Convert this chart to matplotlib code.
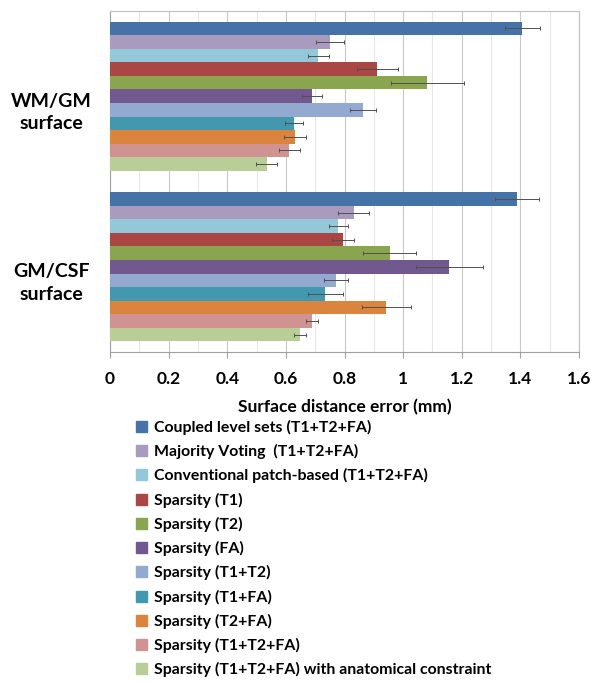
import matplotlib
matplotlib.use("Agg")
import matplotlib.pyplot as plt
import matplotlib.transforms as mtransforms
from matplotlib.patches import Patch
import numpy as np

plt.rcParams['font.family'] = ['Lato', 'DejaVu Sans']
plt.rcParams['font.weight'] = 'bold'

groups = ['WM/GM\nsurface', 'GM/CSF\nsurface']
methods = ['Coupled level sets (T1+T2+FA)',
           'Majority Voting  (T1+T2+FA)',
           'Conventional patch-based (T1+T2+FA)',
           'Sparsity (T1)',
           'Sparsity (T2)',
           'Sparsity (FA)',
           'Sparsity (T1+T2)',
           'Sparsity (T1+FA)',
           'Sparsity (T2+FA)',
           'Sparsity (T1+T2+FA)',
           'Sparsity (T1+T2+FA) with anatomical constraint']
colors = ['#4572A7', '#A99BBD', '#93C8D9', '#AA4643', '#89A54E', '#71588F',
          '#93A9CF', '#4198AF', '#DB843D', '#D19392', '#B9CD96']

wm_gm = [1.406, 0.751, 0.711, 0.912, 1.082, 0.689, 0.863, 0.628, 0.631, 0.612, 0.534]
wm_gm_err = [0.060, 0.047, 0.037, 0.069, 0.124, 0.034, 0.044, 0.032, 0.038, 0.037, 0.036]
gm_csf = [1.389, 0.831, 0.779, 0.795, 0.954, 1.158, 0.771, 0.735, 0.943, 0.689, 0.648]
gm_csf_err = [0.075, 0.054, 0.033, 0.037, 0.091, 0.115, 0.042, 0.059, 0.084, 0.022, 0.021]

fig = plt.figure(figsize=(6.02, 6.83), dpi=100)
ax = fig.add_axes([110/602, 1-352/683, 469/602, 341/683])

n = len(methods)
h = 0.0795
for i in range(n):
    ys = np.arange(len(groups)) - (n-1)/2*h + i*h
    vals = [wm_gm[i], gm_csf[i]]
    errs = [wm_gm_err[i], gm_csf_err[i]]
    ax.barh(ys, vals, height=h, color=colors[i], zorder=3)
    ax.errorbar(vals, ys, xerr=errs, fmt='none', ecolor='#505050',
                elinewidth=0.7, capsize=1.5, capthick=0.7, zorder=4)

ax.set_xlim(0, 1.6)
ax.set_ylim(1.5, -0.5)
ax.set_xticks(np.arange(0, 1.61, 0.2))
ax.set_xticklabels(['0', '0.2', '0.4', '0.6', '0.8', '1', '1.2', '1.4', '1.6'])
ax.set_xticks(np.arange(0.1, 1.6, 0.2), minor=True)
ax.grid(axis='x', which='major', color='#c8c8c8', lw=0.8, zorder=0)
ax.grid(axis='x', which='minor', color='#e6e6e6', lw=0.8, zorder=0)
ax.tick_params(axis='x', which='major', length=4, color='#a0a0a0', labelsize=12.5, pad=10)
ax.tick_params(axis='x', which='minor', length=0)
ax.set_yticks(range(len(groups)))
ax.set_yticklabels(groups, fontsize=14, linespacing=1.4, ha='center')
ax.tick_params(axis='y', length=0, pad=42)
off = mtransforms.ScaledTranslation(0, -12/100, fig.dpi_scale_trans)
for lab in ax.get_yticklabels():
    lab.set_transform(lab.get_transform() + off)
for s in ['top', 'right']:
    ax.spines[s].set_color('#c0c0c0')
for s in ['left', 'bottom']:
    ax.spines[s].set_color('#a0a0a0')
ax.set_xlabel('Surface distance error (mm)', fontsize=12.5, fontweight='bold', labelpad=8)

handles = [Patch(color=c) for c in colors]
fig.legend(handles, methods, loc='upper left', bbox_to_anchor=(128/602, 1-412/683),
           frameon=False, prop={'size': 11.4, 'weight': 'bold'}, handlelength=0.7,
           handleheight=0.7, handletextpad=0.45, labelspacing=0.58, borderpad=0)

fig.savefig('out.png', dpi=100)
